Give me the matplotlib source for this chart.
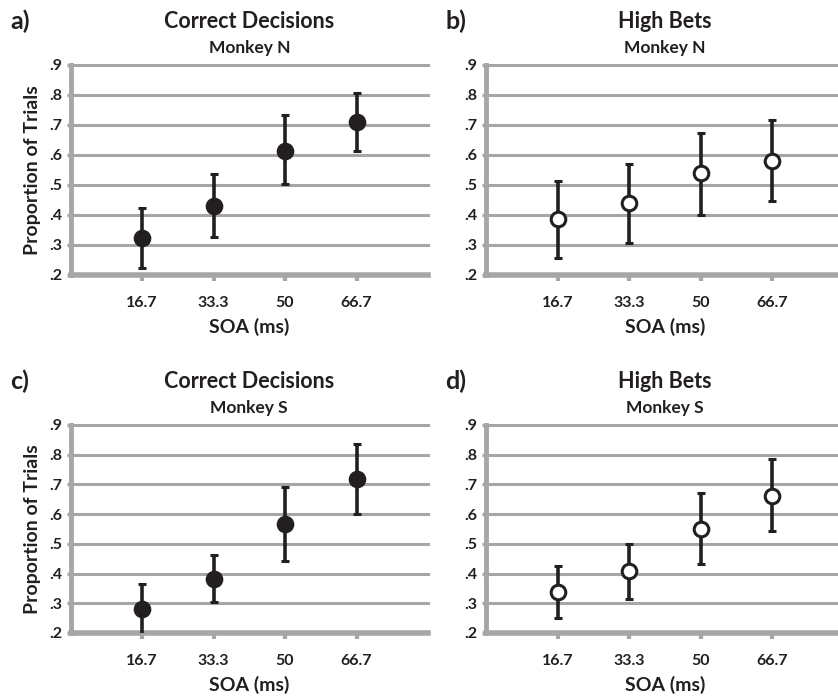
import numpy as np
import matplotlib
matplotlib.use('Agg')
import matplotlib.pyplot as plt

plt.rcParams['font.family'] = ['Lato', 'DejaVu Sans']

soa_labels = ['16.7', '33.3', '50', '66.7']
y_ticks = [0.2, 0.3, 0.4, 0.5, 0.6, 0.7, 0.8, 0.9]
y_tick_labels = ['.2', '.3', '.4', '.5', '.6', '.7', '.8', '.9']

# panel a: correct decisions, monkey N
correct_n = [0.322, 0.431, 0.614, 0.711]
correct_n_lo = [0.222, 0.328, 0.502, 0.614]
correct_n_hi = [0.422, 0.537, 0.733, 0.808]

# panel b: high bets, monkey N
bets_n = [0.387, 0.439, 0.539, 0.580]
bets_n_lo = [0.256, 0.308, 0.400, 0.447]
bets_n_hi = [0.513, 0.570, 0.674, 0.717]

# panel c: correct decisions, monkey S
correct_s = [0.281, 0.383, 0.568, 0.718]
correct_s_lo = [0.192, 0.304, 0.443, 0.601]
correct_s_hi = [0.366, 0.463, 0.692, 0.835]

# panel d: high bets, monkey S
bets_s = [0.338, 0.407, 0.550, 0.661]
bets_s_lo = [0.250, 0.314, 0.432, 0.544]
bets_s_hi = [0.427, 0.499, 0.672, 0.786]

GRAY = '#a6a6a6'
INK = '#231f20'

W, H = 838, 698
fig = plt.figure(figsize=(W / 100, H / 100), dpi=100)


def px_axes(left, top, bottom, width):
    return fig.add_axes([left / W, 1 - bottom / H, width / W, (bottom - top) / H])


panels = [
    ('a)', 'Correct Decisions', 'Monkey N', correct_n, correct_n_lo, correct_n_hi, True, 70.5, 65, 275),
    ('b)', 'High Bets', 'Monkey N', bets_n, bets_n_lo, bets_n_hi, False, 486, 65, 275),
    ('c)', 'Correct Decisions', 'Monkey S', correct_s, correct_s_lo, correct_s_hi, True, 70.5, 425, 633),
    ('d)', 'High Bets', 'Monkey S', bets_s, bets_s_lo, bets_s_hi, False, 486, 425, 633),
]

for letter, title, sub, mean, lo, hi, filled, left, top, bottom in panels:
    ax = px_axes(left, top, bottom, 357.5)
    x = np.arange(1, len(mean) + 1)
    mean = np.array(mean)
    yerr = [mean - np.array(lo), np.array(hi) - mean]

    ax.set_xlim(0, 5)
    ax.set_ylim(0.2, 0.9)
    for yv in y_ticks[1:]:
        ax.axhline(yv, color=GRAY, lw=2.2, zorder=1, clip_on=False)

    ax.errorbar(x, mean, yerr=yerr, fmt='none', ecolor=INK, elinewidth=2.6,
                capsize=2.8, capthick=2.2, zorder=3)
    ax.plot(x, mean, 'o', ms=10.5, mfc=INK if filled else 'white',
            mec=INK, mew=2.2, zorder=4)

    for side in ['top', 'right']:
        ax.spines[side].set_visible(False)
    ax.spines['left'].set_color(GRAY)
    ax.spines['left'].set_linewidth(3.5)
    ax.spines['bottom'].set_color(GRAY)
    ax.spines['bottom'].set_linewidth(4)

    ax.set_yticks(y_ticks)
    ax.set_yticklabels(y_tick_labels)
    ax.set_xticks(x)
    ax.set_xticklabels(soa_labels)
    ax.tick_params(axis='y', colors=GRAY, length=3, width=2.5, pad=3,
                   labelcolor=INK, labelsize=11.5)
    ax.tick_params(axis='x', colors=GRAY, length=4, width=3, pad=11,
                   labelcolor=INK, labelsize=11.5)
    for lab in ax.get_xticklabels() + ax.get_yticklabels():
        lab.set_fontweight('bold')

    ax.set_xlabel('SOA (ms)', fontsize=14, fontweight='bold', color=INK, labelpad=6)
    if letter in ('a)', 'c)'):
        ax.set_ylabel('Proportion of Trials', fontsize=14, fontweight='bold',
                      color=INK, labelpad=6)

    cx = (left + 357.5 / 2) / W
    fig.text(cx, 1 - (top - 43) / H, title, ha='center', va='center',
             fontsize=15.5, fontweight='bold', color=INK)
    fig.text(cx, 1 - (top - 17) / H, sub, ha='center', va='center',
             fontsize=12.5, fontweight='bold', color=INK)
    lx = 10 if letter in ('a)', 'c)') else 445
    fig.text(lx / W, 1 - (top - 44) / H, letter, ha='left', va='center',
             fontsize=18, fontweight='bold', color=INK)

fig.savefig('out.png', dpi=100, facecolor='white')
